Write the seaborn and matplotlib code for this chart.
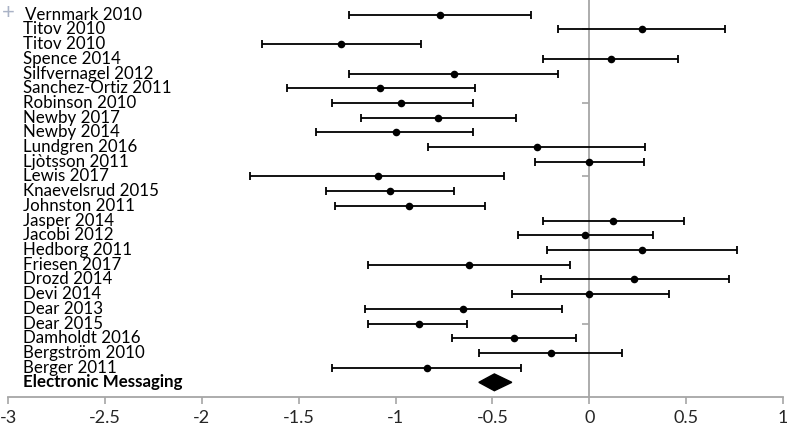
import numpy as np
import matplotlib
matplotlib.use("Agg")
import matplotlib.pyplot as plt
import seaborn as sns

# Study data (top to bottom as drawn)
studies = ["Vernmark 2010", "Titov 2010", "Titov 2010", "Spence 2014",
           "Silfvernagel 2012", "Sanchez-Ortiz 2011", "Robinson 2010",
           "Newby 2017", "Newby 2014", "Lundgren 2016", "Ljòtsson 2011",
           "Lewis 2017", "Knaevelsrud 2015", "Johnston 2011", "Jasper 2014",
           "Jacobi 2012", "Hedborg 2011", "Friesen 2017", "Drozd 2014",
           "Devi 2014", "Dear 2013", "Dear 2015", "Damholdt 2016",
           "Bergström 2010", "Berger 2011"]
effect = [-0.77, 0.27, -1.28, 0.11, -0.70, -1.08, -0.97, -0.78, -1.00,
          -0.27, 0.00, -1.09, -1.03, -0.93, 0.12, -0.02, 0.27, -0.62,
          0.23, 0.00, -0.65, -0.88, -0.39, -0.20, -0.84]
ci_low = [-1.24, -0.16, -1.69, -0.24, -1.24, -1.56, -1.33, -1.18, -1.41,
          -0.83, -0.28, -1.75, -1.36, -1.31, -0.24, -0.37, -0.22, -1.14,
          -0.25, -0.40, -1.16, -1.14, -0.71, -0.57, -1.33]
ci_high = [-0.30, 0.70, -0.87, 0.46, -0.16, -0.59, -0.60, -0.38, -0.60,
           0.29, 0.28, -0.44, -0.70, -0.54, 0.49, 0.33, 0.76, -0.10,
           0.72, 0.41, -0.14, -0.63, -0.07, 0.17, -0.35]

pooled_label = "Electronic Messaging"
pooled = [-0.57, -0.49, -0.40]   # low, estimate, high

x_ticks = [-3, -2.5, -2, -1.5, -1, -0.5, 0, 0.5, 1]
x_tick_labels = ["-3", "-2.5", "-2", "-1.5", "-1", "-0.5", "0", "0.5", "1"]

sns.set_style("white")
plt.rcParams['font.family'] = ['Lato', 'DejaVu Sans']

fig = plt.figure(figsize=(7.87, 4.26), dpi=100)
ax = fig.add_axes([0.0102, 0.068, 0.9848, 0.932])

n = len(studies)
ypos = np.arange(n, 0, -1) + 1  # 26 .. 2
eff = np.array(effect)
lo = np.array(ci_low)
hi = np.array(ci_high)

ax.errorbar(eff, ypos, xerr=[eff - lo, hi - eff], fmt='none', ecolor='black',
            elinewidth=1.3, capsize=2.6, capthick=1.3, zorder=3)
sns.scatterplot(x=eff, y=ypos, color='black', s=30, edgecolor='black',
                linewidth=0, zorder=4, ax=ax)

# pooled diamond
h = 0.57
ax.fill([pooled[0], pooled[1], pooled[2], pooled[1]],
        [1, 1 + h, 1, 1 - h], color='black', zorder=4)

# labels
for i, (name, y) in enumerate(zip(studies, ypos)):
    xoff = -2.91 if i == 0 else -2.925
    ax.text(xoff, y, name, ha='left', va='center', fontsize=12.2,
            color='black')
ax.text(-2.925, 1, pooled_label, ha='left', va='center', fontsize=12.2,
        fontweight='bold', color='black')
ax.text(-3.0, ypos[0] + 0.1, "+", ha='center', va='center', fontsize=16,
        color='#aab3c6')

ax.set_xlim(-3, 1)
ax.set_ylim(0, 27)

axis_gray = '#a6a6a6'
for s in ['top', 'right']:
    ax.spines[s].set_visible(False)
ax.spines['left'].set_position(('data', 0))
ax.spines['left'].set_color(axis_gray)
ax.spines['left'].set_linewidth(1.3)
ax.spines['bottom'].set_color(axis_gray)
ax.spines['bottom'].set_linewidth(1.3)
ax.spines['left'].set_zorder(1)

ax.set_xticks(x_ticks)
ax.set_xticklabels(x_tick_labels, fontsize=13)
ax.set_yticks([5, 10, 15, 20, 25])
ax.set_yticklabels([])
ax.tick_params(axis='x', direction='out', length=5, width=1.2,
               color=axis_gray, pad=4, bottom=True)
ax.tick_params(axis='y', direction='out', length=5, width=1.2,
               color=axis_gray, left=True)
ax.set_xlabel("")
ax.set_ylabel("")

fig.savefig("out.png", dpi=100)
